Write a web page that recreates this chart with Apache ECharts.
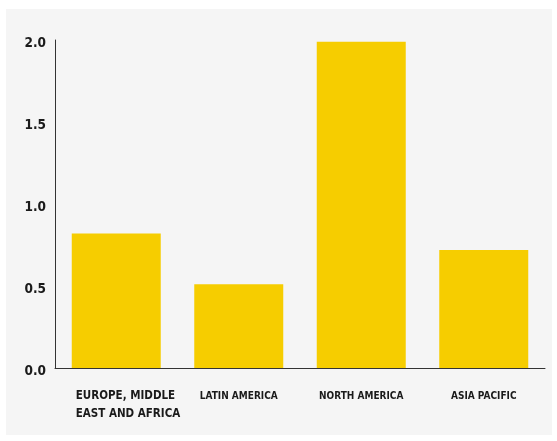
<!DOCTYPE html>
<html>
<head>
<meta charset="utf-8">
<script src="https://cdn.jsdelivr.net/npm/echarts@6/dist/echarts.min.js"></script>
<style>
  html, body { margin: 0; padding: 0; background: #ffffff; }
  #panel { position: absolute; left: 6px; top: 9px; width: 546px; height: 426px; background: #f5f5f5; }
  #chart { position: absolute; left: 0; top: 0; width: 557px; height: 441px; }
</style>
</head>
<body>
<div id="panel"></div>
<div id="chart"></div>
<script>
// Regional values
const regions = ['EUROPE, MIDDLE\nEAST AND AFRICA', 'LATIN AMERICA', 'NORTH AMERICA', 'ASIA PACIFIC'];
const values = [0.82, 0.51, 1.99, 0.72];
const yTicks = [0, 0.5, 1.0, 1.5, 2.0];

const FONT = '"DejaVu Sans Condensed", "Liberation Sans Narrow", "DejaVu Sans", sans-serif';

const chart = echarts.init(document.getElementById('chart'), null, { renderer: 'canvas' });
chart.setOption({
  backgroundColor: 'transparent',
  animation: false,
  grid: { left: 55, right: 12, top: 40, bottom: 73 },
  xAxis: {
    type: 'category',
    data: regions,
    axisLine: { show: true, lineStyle: { color: '#333333', width: 1 } },
    axisTick: { show: false },
    axisLabel: {
      interval: 0,
      margin: 19,
      color: '#1a1a1a',
      fontFamily: FONT,
      fontWeight: 'bold',
      fontSize: 10,
      lineHeight: 18,
      formatter: function (v) {
        if (v.indexOf('\n') >= 0) {
          return v.split('\n').map(function (s) { return '{big|' + s + '}'; }).join('\n');
        }
        return v;
      },
      rich: {
        big: {
          fontFamily: FONT, fontWeight: 'bold', fontSize: 11.5, lineHeight: 18,
          color: '#1a1a1a', width: 92, align: 'left', padding: [0, 0, 0, 11]
        }
      }
    }
  },
  yAxis: {
    type: 'value',
    min: yTicks[0],
    max: yTicks[yTicks.length - 1],
    interval: 0.5,
    axisLine: { show: true, lineStyle: { color: '#333333', width: 1 } },
    axisTick: { show: false },
    splitLine: { show: false },
    axisLabel: {
      margin: 9,
      formatter: function (v) { return '{t|' + v.toFixed(1) + '}'; },
      rich: {
        t: {
          color: '#1a1a1a', fontFamily: FONT, fontWeight: 'bold', fontSize: 13.5,
          padding: [7, 0, 0, 0]
        }
      }
    }
  },
  series: [{
    type: 'bar',
    data: values,
    barWidth: 89,
    itemStyle: { color: '#f6cd00' }
  }]
});
</script>
</body>
</html>
